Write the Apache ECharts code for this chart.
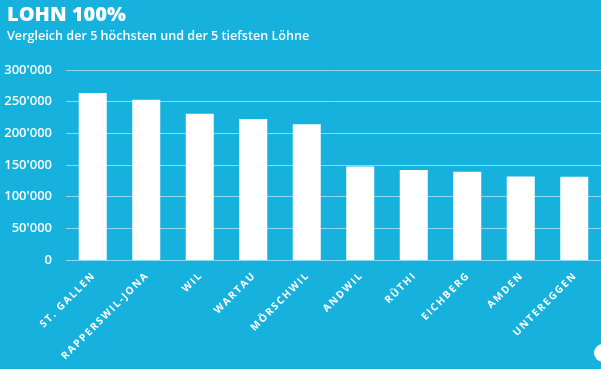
<!DOCTYPE html>
<html><head><meta charset="utf-8">
<script src="https://cdn.jsdelivr.net/npm/echarts@6/dist/echarts.min.js"></script>
<style>html,body{margin:0;padding:0;background:#16b1dc}#c{width:601px;height:369px}</style>
</head><body><div id="c"></div>
<script>
const categories = ['ST. GALLEN','RAPPERSWIL-JONA','WIL','WARTAU','MÖRSCHWIL','ANDWIL','RÜTHI','EICHBERG','AMDEN','UNTEREGGEN'];
const values = [263500, 253000, 231000, 222500, 214500, 147500, 142000, 139500, 132000, 131500];
const yTicks = [0, 50000, 100000, 150000, 200000, 250000, 300000];
const titleText = 'LOHN 100%';
const subtitleText = 'Vergleich der 5 höchsten und der 5 tiefsten Löhne';

const spaced = s => s.split('').join('\u2009');
const chart = echarts.init(document.getElementById('c'));
chart.setOption({
  backgroundColor: '#16b1dc',
  animation: false,
  title: {
    text: titleText, subtext: subtitleText, left: 2, top: 0, itemGap: 5,
    textStyle: {color: '#fff', fontFamily: 'Open Sans', fontWeight: 800, fontSize: 20},
    subtextStyle: {color: '#fff', fontFamily: 'Open Sans', fontWeight: 600, fontSize: 12.6}
  },
  grid: {left: 66, right: 0, top: 70, bottom: 109},
  xAxis: {
    type: 'category', data: categories,
    axisLine: {show: false}, axisTick: {show: false},
    axisLabel: {rotate: 45, color: '#fff', fontFamily: 'Open Sans', fontWeight: 700, fontSize: 10.2, margin: 15, interval: 0,
      formatter: v => spaced(v)}
  },
  yAxis: {
    type: 'value', min: yTicks[0], max: yTicks[yTicks.length-1], interval: 50000,
    axisLine: {show: false}, axisTick: {show: false},
    splitLine: {lineStyle: {color: '#8ad9f0', width: 1}},
    axisLabel: {color: '#fff', fontFamily: 'Open Sans', fontWeight: 600, fontSize: 13, margin: 14,
      formatter: v => String(v).replace(/\B(?=(\d{3})+(?!\d))/g, "'")}
  },
  series: [{type: 'bar', data: values, barWidth: 28, itemStyle: {color: '#fff'}}],
  graphic: [{type: 'circle', shape: {cx: 603, cy: 353, r: 9}, style: {fill: '#fff'}}]
});
</script></body></html>
